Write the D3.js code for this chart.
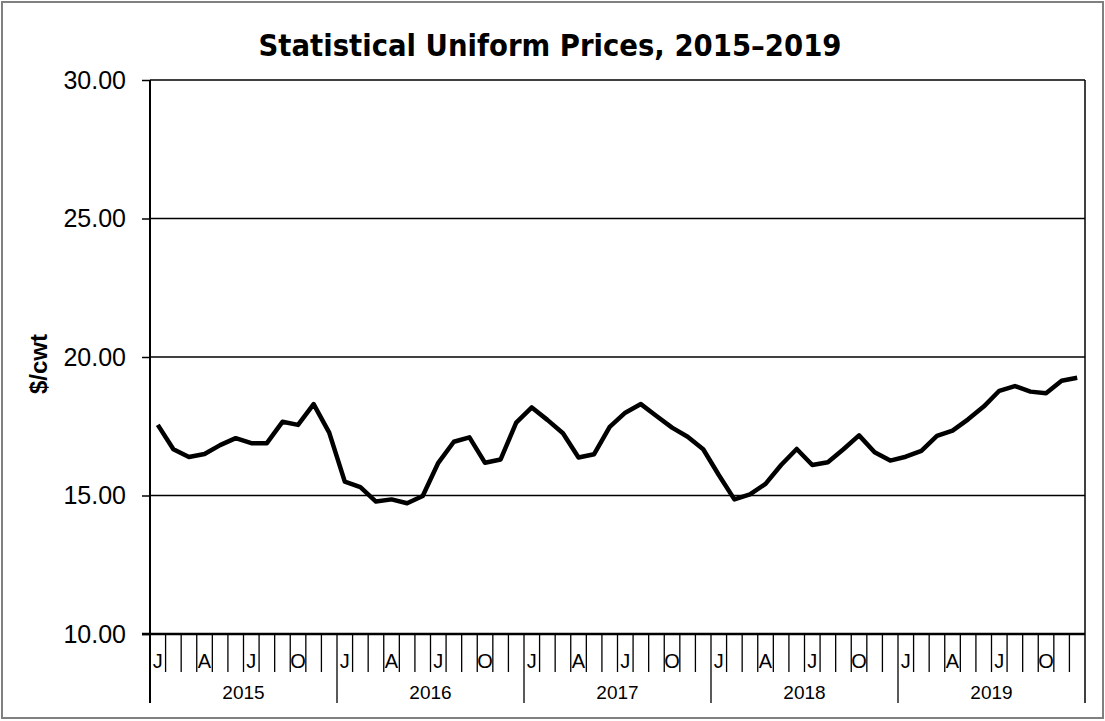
<!DOCTYPE html>
<html><head><meta charset="utf-8">
<script src="https://cdn.jsdelivr.net/npm/d3@7"></script>
<style>html,body{margin:0;padding:0;background:#fff;}svg{display:block;}</style>
</head><body>
<svg id="chart" width="1105" height="721"></svg>
<script>
const title = "Statistical Uniform Prices, 2015\u20132019";
const yLabel = "$/cwt";
const years = ["2015","2016","2017","2018","2019"];
const monthLetters = ["J","","","A","","","J","","","O","",""];
const yTicks = [10, 15, 20, 25, 30];
const prices2015 = [17.55,16.67,16.39,16.50,16.82,17.07,16.89,16.89,17.66,17.55,18.30,17.27];
const prices2016 = [15.50,15.30,14.78,14.86,14.72,14.98,16.18,16.94,17.10,16.18,16.30,17.63];
const prices2017 = [18.18,17.73,17.25,16.37,16.49,17.48,17.99,18.30,17.87,17.45,17.12,16.67];
const prices2018 = [15.74,14.86,15.04,15.42,16.10,16.68,16.10,16.20,16.67,17.17,16.56,16.26];
const prices2019 = [16.40,16.61,17.15,17.34,17.75,18.21,18.78,18.95,18.75,18.69,19.14,19.25];

const prices = [].concat(prices2015, prices2016, prices2017, prices2018, prices2019);
const svg = d3.select("#chart");
const L = 150, R = 1085, T = 80, B = 634;

svg.append("rect").attr("width",1105).attr("height",721).attr("fill","#fff");
svg.append("rect").attr("x",2).attr("y",2).attr("width",1101).attr("height",716)
  .attr("fill","none").attr("stroke","#808080").attr("stroke-width",2);

const x = d3.scaleBand().domain(d3.range(prices.length)).range([L, R]).padding(0);
const y = d3.scaleLinear().domain([10, 30]).range([B, T]);
const bw = x.bandwidth();

// gridlines
svg.append("g").selectAll("line").data(yTicks.filter(d => d > 10)).join("line")
  .attr("x1", L).attr("x2", R).attr("y1", d => y(d)).attr("y2", d => y(d))
  .attr("stroke", "#000").attr("stroke-width", 1.5);

// y axis
const yAxis = d3.axisLeft(y).tickValues(yTicks).tickFormat(d3.format(".2f")).tickSize(8).tickPadding(16);
const ga = svg.append("g").attr("transform", `translate(${L},0)`).call(yAxis);
ga.select(".domain").remove();
ga.selectAll(".tick line").attr("stroke","#000").attr("stroke-width",1.5);
ga.selectAll(".tick text").attr("font-family","'Liberation Sans', Arial, sans-serif")
  .attr("font-size", 25).attr("fill","#000");

svg.append("line").attr("x1",L).attr("x2",L).attr("y1",T).attr("y2",B+69)
  .attr("stroke","#000").attr("stroke-width",2);
svg.append("line").attr("x1",R).attr("x2",R).attr("y1",T).attr("y2",B+69)
  .attr("stroke","#000").attr("stroke-width",1.5);

// month ticks
const bounds = d3.range(prices.length + 1);
svg.append("g").selectAll("line").data(bounds.filter(i => i>0 && i<prices.length)).join("line")
  .attr("x1", i => L + i*bw).attr("x2", i => L + i*bw)
  .attr("y1", B).attr("y2", i => (i % 12 === 0) ? B + 69 : B + 38)
  .attr("stroke","#000").attr("stroke-width",1.3);

// month labels
svg.append("g").selectAll("text").data(d3.range(prices.length).filter(i => monthLetters[i%12])).join("text")
  .attr("x", i => x(i) + bw/2).attr("y", B + 34).attr("text-anchor","middle")
  .attr("font-family","'Liberation Sans', Arial, sans-serif").attr("font-size",20)
  .text(i => monthLetters[i%12]);

// year labels
svg.append("g").selectAll("text").data(years).join("text")
  .attr("x", (d,i) => L + (i*12 + 6)*bw).attr("y", B + 65).attr("text-anchor","middle")
  .attr("font-family","'Liberation Sans', Arial, sans-serif").attr("font-size",19)
  .text(d => d);

// bottom axis line
svg.append("line").attr("x1",L-8).attr("x2",R).attr("y1",B).attr("y2",B)
  .attr("stroke","#000").attr("stroke-width",2.5);

// price line
const line = d3.line().x((d,i) => x(i) + bw/2).y(d => y(d)).curve(d3.curveLinear);
svg.append("path").datum(prices).attr("d", line).attr("fill","none")
  .attr("stroke","#000").attr("stroke-width",4.5).attr("stroke-linejoin","round");

// title
const tt = svg.append("text").attr("x", 550).attr("y", 56).attr("text-anchor","middle")
  .attr("font-family","'DejaVu Sans Condensed', 'DejaVu Sans', sans-serif").attr("font-weight","bold")
  .attr("font-stretch","condensed")
  .attr("font-size", 26).text(title);
const w = tt.node().getComputedTextLength();
tt.attr("font-size", 26 * 583 / w);

// y label
svg.append("text").attr("transform","translate(47,364) rotate(-90)").attr("text-anchor","middle")
  .attr("font-family","'Liberation Sans', Arial, sans-serif").attr("font-weight","bold")
  .attr("font-size",24).text(yLabel);
</script>
</body></html>
